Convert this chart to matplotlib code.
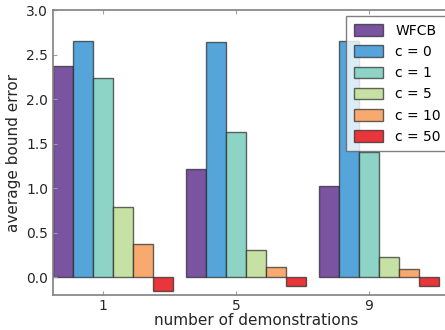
import matplotlib
matplotlib.use("Agg")
import matplotlib.pyplot as plt
import numpy as np

# data
demos = ["1", "5", "9"]
series = ["WFCB", "c = 0", "c = 1", "c = 5", "c = 10", "c = 50"]
wfcb = [2.37, 1.22, 1.02]
c0 = [2.65, 2.64, 2.65]
c1 = [2.24, 1.63, 1.41]
c5 = [0.79, 0.31, 0.23]
c10 = [0.37, 0.12, 0.09]
c50 = [-0.16, -0.10, -0.10]
colors = ["#7a53a1", "#56a5da", "#8dd3c6", "#c6e1a3", "#f8a96f", "#e8363a"]


def main():
    values = [wfcb, c0, c1, c5, c10, c50]
    width = 0.15
    ind = np.arange(len(demos))

    fig = plt.figure(figsize=(4.45, 3.3), dpi=100)
    ax = fig.add_axes([53 / 445, 35 / 330, 407 / 445, 285 / 330])

    for i, (name, vals) in enumerate(zip(series, values)):
        ax.bar(ind + i * width, vals, width, align="edge", color=colors[i],
               edgecolor=(0.15, 0.15, 0.15, 0.7), linewidth=1, label=name)

    ax.set_xlim(0, 407 / 133)
    ax.set_ylim(-0.2, 3.0)
    ax.set_yticks(np.arange(0, 3.01, 0.5))
    ax.set_xticks(ind + 2.5 * width)
    ax.set_xticklabels(demos)

    for s in ax.spines.values():
        s.set_color("#808080")
        s.set_linewidth(1.2)
    ax.tick_params(direction="in", length=3, color="#a0a0a0", labelsize=10,
                   labelcolor="#262626", top=True, right=False)
    ax.tick_params(axis="x", pad=3)
    ax.set_xlabel("number of demonstrations", fontsize=11, color="#262626", labelpad=0)
    ax.set_ylabel("average bound error", fontsize=11, color="#262626", labelpad=4)

    leg = ax.legend(loc="upper left", bbox_to_anchor=(346 / 445, 1 - 16 / 330),
                    bbox_transform=fig.transFigure, fontsize=10, fancybox=False,
                    handlelength=2.1, handleheight=0.9, borderpad=0.55,
                    labelspacing=0.52, handletextpad=0.9, borderaxespad=0)
    leg.get_frame().set_edgecolor("#606060")
    leg.get_frame().set_linewidth(1)

    fig.savefig("out.png", dpi=100)


if __name__ == "__main__":
    main()
